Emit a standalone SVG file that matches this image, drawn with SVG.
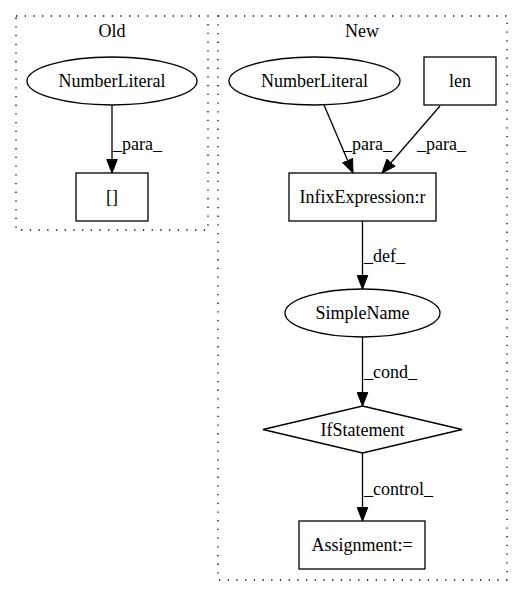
<svg xmlns="http://www.w3.org/2000/svg" width="523" height="596" viewBox="0 0 523 596">
<defs>
<style>
text{font-family:'Liberation Serif','Times New Roman',Times,serif;font-size:18px;fill:#000}
.n{fill:none;stroke:#000;stroke-width:1.3}
.c{fill:none;stroke:#000;stroke-width:1.3;stroke-dasharray:1.3,7.4}
.e{fill:none;stroke:#000;stroke-width:1.3;marker-end:url(#a)}
.m{text-anchor:middle}
</style>
<marker id="a" markerWidth="15" markerHeight="12" refX="14" refY="6" orient="auto" markerUnits="userSpaceOnUse">
<path d="M0.5,0.7 L14,6 L0.5,11.3 Z" fill="#000" stroke="#000"/>
</marker>
</defs>
<rect width="523" height="596" fill="#fff"/>
<g id="cluster_old">
<rect class="c" x="16" y="16" width="192" height="214"/>
<text class="m" x="112" y="37" font-family="Liberation Serif, serif">Old</text>
</g>
<g id="cluster_new">
<rect class="c" x="218" y="16" width="289" height="564"/>
<text class="m" x="362" y="37" font-family="Liberation Serif, serif">New</text>
</g>
<g id="edges" font-family="Liberation Serif, serif">
<line class="e" x1="112" y1="105" x2="112" y2="173"/>
<text x="113" y="150">_para_</text>
<line class="e" x1="324" y1="105" x2="353" y2="173"/>
<text x="343" y="150">_para_</text>
<line class="e" x1="440" y1="106" x2="382" y2="173"/>
<text x="417" y="150">_para_</text>
<line class="e" x1="362.5" y1="221" x2="362.5" y2="289"/>
<text x="364" y="262">_def_</text>
<line class="e" x1="362.5" y1="337" x2="362.5" y2="406"/>
<text x="364" y="378">_cond_</text>
<line class="e" x1="362.5" y1="453" x2="362.5" y2="521"/>
<text x="364" y="495">_control_</text>
</g>
<g id="old_numberliteral">
<ellipse class="n" cx="112" cy="81" rx="85" ry="24"/>
<text class="m" x="112" y="87" font-family="Liberation Serif, serif">NumberLiteral</text>
</g>
<g id="old_index">
<rect class="n" x="76" y="173" width="72" height="48"/>
<text class="m" x="112" y="203" font-family="Liberation Serif, serif">[]</text>
</g>
<g id="new_numberliteral">
<ellipse class="n" cx="314.5" cy="81" rx="85.5" ry="24"/>
<text class="m" x="314.5" y="87" font-family="Liberation Serif, serif">NumberLiteral</text>
</g>
<g id="new_len">
<rect class="n" x="424" y="57" width="72" height="48"/>
<text class="m" x="460" y="87" font-family="Liberation Serif, serif">len</text>
</g>
<g id="new_infix">
<rect class="n" x="289" y="173" width="147" height="48"/>
<text class="m" x="362.5" y="203" font-family="Liberation Serif, serif">InfixExpression:r</text>
</g>
<g id="new_simplename">
<ellipse class="n" cx="362.5" cy="313" rx="77.5" ry="24"/>
<text class="m" x="362.5" y="319" font-family="Liberation Serif, serif">SimpleName</text>
</g>
<g id="new_ifstatement">
<polygon class="n" points="362.5,406 462,429.5 362.5,453 263,429.5"/>
<text class="m" x="362.5" y="436" font-family="Liberation Serif, serif">IfStatement</text>
</g>
<g id="new_assignment">
<rect class="n" x="299" y="521" width="126" height="48"/>
<text class="m" x="362" y="551" font-family="Liberation Serif, serif">Assignment:=</text>
</g>
</svg>
